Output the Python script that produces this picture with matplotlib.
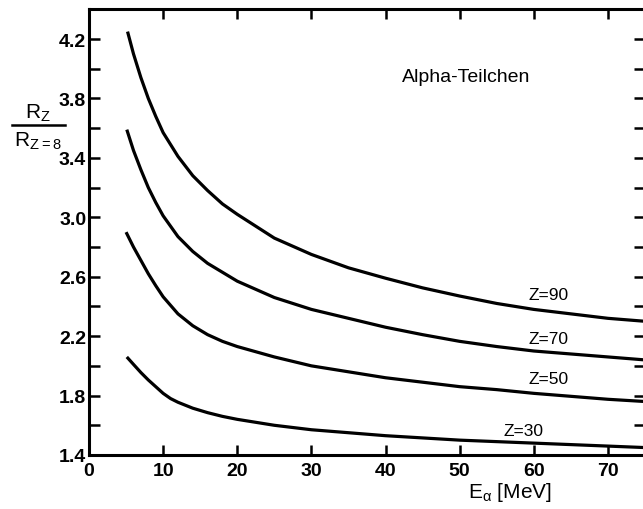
import matplotlib
matplotlib.use("Agg")
import matplotlib.pyplot as plt
import numpy as np

plt.rcParams['font.family'] = ['Liberation Sans', 'DejaVu Sans']

# Data
z90_x = [5.2, 6, 7, 8, 9, 10, 12, 14, 16, 18, 20, 25, 30, 35, 40, 45, 50, 55, 60, 65, 70, 75]
z90_y = [4.25, 4.10, 3.94, 3.80, 3.68, 3.57, 3.41, 3.28, 3.18, 3.09, 3.02, 2.86, 2.75, 2.66, 2.59, 2.525, 2.47, 2.42, 2.38, 2.35, 2.32, 2.30]

z70_x = [5.1, 6, 7, 8, 9, 10, 12, 14, 16, 18, 20, 25, 30, 35, 40, 45, 50, 55, 60, 65, 70, 75]
z70_y = [3.59, 3.45, 3.32, 3.20, 3.10, 3.01, 2.87, 2.77, 2.69, 2.63, 2.57, 2.46, 2.38, 2.32, 2.26, 2.21, 2.165, 2.13, 2.10, 2.08, 2.06, 2.04]

z50_x = [5, 6, 7, 8, 9, 10, 12, 14, 16, 18, 20, 25, 30, 35, 40, 45, 50, 55, 60, 65, 70, 75]
z50_y = [2.90, 2.80, 2.71, 2.62, 2.54, 2.465, 2.35, 2.27, 2.21, 2.165, 2.13, 2.06, 2.00, 1.96, 1.92, 1.89, 1.86, 1.84, 1.815, 1.795, 1.775, 1.76]

z30_x = [5.1, 6, 7, 8, 9, 10, 11, 12, 14, 16, 18, 20, 25, 30, 35, 40, 45, 50, 55, 60, 65, 70, 75]
z30_y = [2.06, 2.01, 1.955, 1.905, 1.86, 1.815, 1.78, 1.755, 1.715, 1.685, 1.66, 1.64, 1.60, 1.57, 1.55, 1.53, 1.515, 1.50, 1.49, 1.48, 1.47, 1.46, 1.45]

curve_labels = ["Z=90", "Z=70", "Z=50", "Z=30"]
label_x = [62, 62, 62, 58.6]
label_y = [2.43, 2.135, 1.865, 1.515]

xticks = [0, 10, 20, 30, 40, 50, 60, 70]
yticks = [1.4, 1.8, 2.2, 2.6, 3.0, 3.4, 3.8, 4.2]
yticklabels = ["1.4", "1.8", "2.2", "2.6", "3.0", "3.4", "3.8", "4.2"]

fig = plt.figure(figsize=(6.43, 5.10), dpi=100)
ax = fig.add_axes([89/643, 54/510, (645-89)/643, (456-10.3)/510])

for xs, ys in [(z90_x, z90_y), (z70_x, z70_y), (z50_x, z50_y), (z30_x, z30_y)]:
    ax.plot(xs, ys, color='black', lw=2.3, solid_capstyle='butt', solid_joinstyle='round')

for t, lx, ly in zip(curve_labels, label_x, label_y):
    ax.text(lx, ly, t, ha='center', va='bottom', fontsize=12.5, color='black')

ax.text(50.9, 3.95, "Alpha-Teilchen", ha='center', va='center', fontsize=14, color='black')

ax.set_xlim(0, 75)
ax.set_ylim(1.4, 4.4)
ax.set_xticks(xticks)
ax.set_xticklabels([str(v) for v in xticks])
ax.set_yticks(yticks)
ax.set_yticklabels(yticklabels)
ax.set_yticks(np.arange(1.6, 4.41, 0.4), minor=True)

ax.tick_params(axis='both', which='both', direction='in', labelsize=14, width=1.8)
ax.tick_params(axis='y', which='both', length=8, right=True, pad=2)
ax.tick_params(axis='x', which='both', length=7, top=True, pad=5)
for lab in ax.get_xticklabels() + ax.get_yticklabels():
    lab.set_fontweight('bold')
for s in ax.spines.values():
    s.set_linewidth(2.2)

ax.text(-0.092, 0.746, r"$\mathregular{R_Z}$", transform=ax.transAxes, ha='center', va='bottom', fontsize=15)
ax.plot([-0.138, -0.043], [0.740, 0.740], transform=ax.transAxes, color='black', lw=1.8, clip_on=False)
ax.text(-0.092, 0.730, r"$\mathregular{R_{Z=8}}$", transform=ax.transAxes, ha='center', va='top', fontsize=15)

ax.text(0.757, -0.082, r"$\mathregular{E_\alpha}$ [MeV]", transform=ax.transAxes, ha='center', va='center', fontsize=15)

fig.savefig("out.png", dpi=100)
